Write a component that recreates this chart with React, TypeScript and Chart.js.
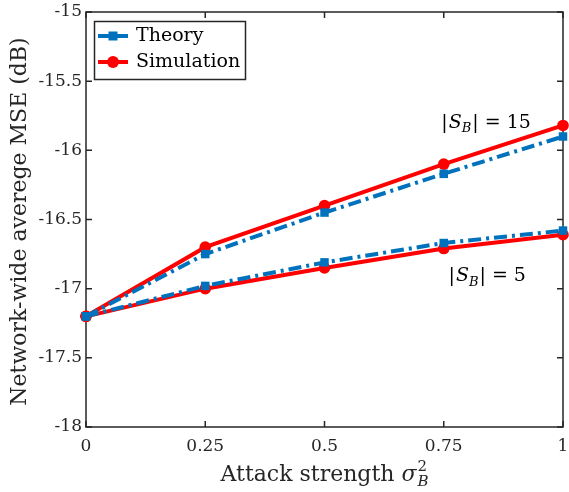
import React, { useEffect, useRef } from 'react';
import { Chart, registerables } from 'chart.js';
Chart.register(...registerables);

const xValues = [0, 0.25, 0.5, 0.75, 1];
const theory15 = [-17.2, -16.75, -16.45, -16.17, -15.9];
const sim15 = [-17.2, -16.7, -16.4, -16.1, -15.82];
const theory5 = [-17.2, -16.98, -16.81, -16.67, -16.58];
const sim5 = [-17.2, -17.0, -16.85, -16.71, -16.61];
const xTicks = [0, 0.25, 0.5, 0.75, 1];
const xTickLabels = ['0', '0.25', '0.5', '0.75', '1'];
const yTicks = [-18, -17.5, -17, -16.5, -16, -15.5, -15];
const yTickLabels = ['-18', '-17.5', '-17', '-16.5', '-16', '-15.5', '-15'];
const legendLabels = ['Theory', 'Simulation'];
const groupLabels = ['15', '5'];
const xTitle = 'Attack strength ';
const yTitle = 'Network-wide averege MSE (dB)';

const BLUE = '#0072BD';
const RED = '#FF0000';
const AXIS = '#262626';
const SERIF = '"DejaVu Serif", serif';
const DASH = [13, 5, 3, 5];

function drawSetLabel(ctx: CanvasRenderingContext2D, x: number, y: number, n: string) {
  ctx.save();
  ctx.fillStyle = '#000';
  ctx.textBaseline = 'middle';
  ctx.textAlign = 'left';
  let cx = x;
  ctx.font = `19px ${SERIF}`;
  ctx.fillText('|', cx, y);
  cx += ctx.measureText('|').width + 1;
  ctx.font = `italic 19px ${SERIF}`;
  ctx.fillText('S', cx, y);
  cx += ctx.measureText('S').width;
  ctx.font = `italic 13px ${SERIF}`;
  ctx.fillText('B', cx, y + 6);
  cx += ctx.measureText('B').width + 1;
  ctx.font = `19px ${SERIF}`;
  ctx.fillText('|', cx, y);
  cx += ctx.measureText('|').width + 6;
  ctx.fillText('=', cx, y);
  cx += ctx.measureText('=').width + 6;
  ctx.fillText(n, cx, y);
  ctx.restore();
}

const framePlugin = {
  id: 'frame',
  beforeDatasetsDraw(chart: any) {
    const { ctx, chartArea: a, scales } = chart;
    const xs = scales.x, ys = scales.y;
    ctx.save();
    ctx.strokeStyle = AXIS;
    ctx.lineWidth = 1.5;
    ctx.strokeRect(a.left, a.top, a.right - a.left, a.bottom - a.top);
    ctx.beginPath();
    const tl = 6;
    xTicks.forEach((v) => {
      const px = xs.getPixelForValue(v);
      ctx.moveTo(px, a.bottom); ctx.lineTo(px, a.bottom - tl);
      ctx.moveTo(px, a.top); ctx.lineTo(px, a.top + tl);
    });
    yTicks.forEach((v) => {
      const py = ys.getPixelForValue(v);
      ctx.moveTo(a.left, py); ctx.lineTo(a.left + tl, py);
      ctx.moveTo(a.right, py); ctx.lineTo(a.right - tl, py);
    });
    ctx.stroke();
    // tick labels
    ctx.fillStyle = AXIS;
    ctx.font = `17px ${SERIF}`;
    ctx.textAlign = 'center';
    ctx.textBaseline = 'top';
    xTicks.forEach((v, i) => {
      ctx.fillText(xTickLabels[i], xs.getPixelForValue(v), a.bottom + 11);
    });
    ctx.textAlign = 'right';
    ctx.textBaseline = 'middle';
    yTicks.forEach((v, i) => {
      ctx.fillText(yTickLabels[i], a.left - 4, ys.getPixelForValue(v));
    });
    // axis titles
    ctx.fillStyle = AXIS;
    ctx.font = `22px ${SERIF}`;
    ctx.textBaseline = 'alphabetic';
    ctx.textAlign = 'left';
    const w1 = ctx.measureText(xTitle).width;
    ctx.font = `italic 22px ${SERIF}`;
    const w2 = ctx.measureText('σ').width;
    const total = w1 + w2 + 12;
    const cx = (a.left + a.right) / 2;
    let sx = cx - total / 2;
    const by = 481;
    ctx.font = `22px ${SERIF}`;
    ctx.fillText(xTitle, sx, by);
    sx += w1;
    ctx.font = `italic 22px ${SERIF}`;
    ctx.fillText('σ', sx, by);
    sx += w2 + 1;
    ctx.font = `15px ${SERIF}`;
    ctx.fillText('2', sx, by - 10);
    ctx.font = `italic 15px ${SERIF}`;
    ctx.fillText('B', sx, by + 5);
    // y title
    ctx.save();
    ctx.translate(20, (a.top + a.bottom) / 2 + 2);
    ctx.rotate(-Math.PI / 2);
    ctx.font = `22px ${SERIF}`;
    ctx.textAlign = 'center';
    ctx.textBaseline = 'middle';
    ctx.fillText(yTitle, 0, 0);
    ctx.restore();
    ctx.restore();
  },
  afterDraw(chart: any) {
    const { ctx, scales } = chart;
    const xs = scales.x, ys = scales.y;
    // group labels
    drawSetLabel(ctx, xs.getPixelForValue(0.745), ys.getPixelForValue(-15.8), groupLabels[0]);
    drawSetLabel(ctx, xs.getPixelForValue(0.76), ys.getPixelForValue(-16.91), groupLabels[1]);
    // legend
    ctx.save();
    const bx = 94.5, by = 21.5, bw = 151, bh = 58;
    ctx.fillStyle = '#fff';
    ctx.fillRect(bx, by, bw, bh);
    ctx.strokeStyle = AXIS;
    ctx.lineWidth = 1.5;
    ctx.strokeRect(bx, by, bw, bh);
    const rows = [36, 62];
    const colors = [BLUE, RED];
    rows.forEach((ry, i) => {
      ctx.strokeStyle = colors[i];
      ctx.fillStyle = colors[i];
      ctx.lineWidth = 4;
      ctx.setLineDash([]);
      ctx.beginPath();
      ctx.moveTo(98, ry); ctx.lineTo(128, ry);
      ctx.stroke();
      if (i === 0) {
        ctx.fillRect(113 - 4.5, ry - 4.5, 9, 9);
      } else {
        ctx.beginPath();
        ctx.arc(113, ry, 6, 0, Math.PI * 2);
        ctx.fill();
      }
      ctx.fillStyle = '#000';
      ctx.font = `19px ${SERIF}`;
      ctx.textAlign = 'left';
      ctx.textBaseline = 'middle';
      ctx.fillText(legendLabels[i], 136, ry);
    });
    ctx.restore();
  },
};

export default function App() {
  const ref = useRef<HTMLCanvasElement | null>(null);
  useEffect(() => {
    document.body.style.margin = '0';
    const canvas = ref.current!;
    const mk = (data: number[], color: string, theory: boolean, order: number) => ({
      data: data.map((y, i) => ({ x: xValues[i], y })),
      borderColor: color,
      backgroundColor: color,
      borderWidth: 4,
      borderDash: theory ? DASH : [],
      pointStyle: theory ? 'rect' : 'circle',
      pointRadius: theory ? 6 : 5.8,
      pointBorderWidth: 0,
      pointBackgroundColor: color,
      tension: 0,
      clip: false as any,
      order,
    });
    const chart = new Chart(canvas, {
      type: 'line',
      data: {
        datasets: [
          mk(theory15, BLUE, true, 0),
          mk(theory5, BLUE, true, 0),
          mk(sim15, RED, false, 1),
          mk(sim5, RED, false, 1),
        ] as any,
      },
      options: {
        responsive: false,
        animation: false,
        devicePixelRatio: 1,
        layout: { padding: { top: 12, right: 3, left: 0, bottom: 0 } },
        plugins: { legend: { display: false }, tooltip: { enabled: false } },
        scales: {
          x: {
            type: 'linear', min: 0, max: 1,
            grid: { display: false }, border: { display: false },
            ticks: { display: false },
            afterFit: (s: any) => { s.height = 65; },
          },
          y: {
            type: 'linear', min: -18, max: -15,
            grid: { display: false }, border: { display: false },
            ticks: { display: false },
            afterFit: (s: any) => { s.width = 86; },
          },
        },
      } as any,
      plugins: [framePlugin],
    });
    return () => chart.destroy();
  }, []);
  return <canvas ref={ref} width={569} height={492} style={{ display: 'block', width: 569, height: 492 }} />;
}
